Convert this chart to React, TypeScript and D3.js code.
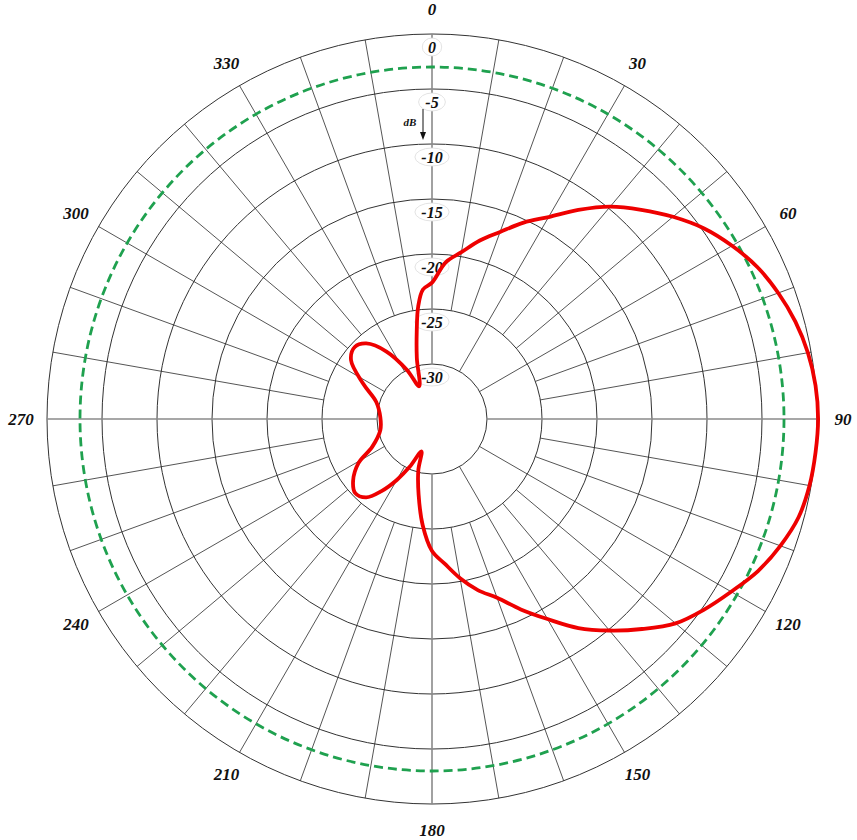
import React from 'react';
import * as d3 from 'd3';

const angleTicks = [0, 30, 60, 90, 120, 150, 180, 210, 240, 270, 300, 330];
const spokeAngles = d3.range(0, 360, 10);
const ringLevels = [0, -5, -10, -15, -20, -25, -30];
const ringLabels = ['0', '-5', '-10', '-15', '-20', '-25', '-30'];
const referenceDb = -3;

const patternAngles = [
  0, 5, 10, 15, 20, 25, 30, 35, 40, 45, 50, 55, 60, 65, 70, 75, 80, 85, 90, 95,
  100, 105, 110, 115, 120, 125, 130, 135, 140, 145, 150, 155, 160, 165, 170, 175,
  180, 185, 190, 195, 198, 205, 210, 215, 220, 226, 232, 239, 245, 258, 272, 287,
  297, 306, 313, 319, 326, 333, 338.5, 346, 350, 353, 356,
];
const patternDb = [
  -22.6, -20.7, -19.6, -18.2, -16.9, -15.3, -13.8, -11.8, -9.8, -8.1, -6.4, -4.8, -3.5, -2.35, -1.5, -0.8,
  -0.3, 0, 0.1, 0, -0.15, -0.5, -1.3, -2.3, -3.6, -4.8, -6.1, -8.0, -9.9, -11.8, -14.0, -15.9,
  -17.7, -18.9, -20.3, -21.8, -23.0, -25.3, -28.0, -30.2, -31.9, -30.2, -28.6, -27.0, -25.7, -25.3,
  -25.9, -27.2, -29.0, -30.2, -30.3, -29.7, -28.0, -25.9, -25.4, -25.9, -27.6, -30.0, -31.8, -29.3,
  -27.0, -24.7, -23.2,
];

export default function App() {
  const W = 857;
  const H = 840;
  const cx = 432;
  const cy = 419;
  const rScale = d3.scaleLinear().domain([-35, 0]).range([0, 385]);
  const rOuter = rScale(0);
  const rInner = rScale(-30);
  const rMid = rScale(-25);
  const rad = (a: number) => (a * Math.PI) / 180;

  const pts: [number, number][] = patternAngles.map((a, i) => [rad(a), rScale(patternDb[i])]);
  const line = d3
    .lineRadial<[number, number]>()
    .angle((d) => d[0])
    .radius((d) => d[1])
    .curve(d3.curveCatmullRomClosed.alpha(0.5));

  const labelR = 411;
  const serif = '"Liberation Serif", "Times New Roman", serif';

  return (
    <svg width={W} height={H} style={{ position: 'absolute', left: 0, top: 0, background: '#fff' }}>
      <g transform={`translate(${cx},${cy})`}>
        {ringLevels.map((lv) => (
          <circle key={lv} r={rScale(lv)} fill="none" stroke="#333" strokeWidth={1} />
        ))}
        {spokeAngles.map((a) => {
          const r0 = a % 30 === 0 ? rInner : rMid;
          const axis = a % 90 === 0;
          const s = Math.sin(rad(a));
          const c = -Math.cos(rad(a));
          return (
            <line
              key={a}
              x1={r0 * s}
              y1={r0 * c}
              x2={rOuter * s}
              y2={rOuter * c}
              stroke={axis ? '#8a8a8a' : '#2a2a2a'}
              strokeWidth={axis ? 1.6 : 0.8}
            />
          );
        })}
        <circle
          r={rScale(referenceDb)}
          fill="none"
          stroke="#1fa14f"
          strokeWidth={2.8}
          strokeDasharray="9 5"
        />
        {ringLevels.map((lv, i) => {
          const y = -rScale(lv) + 13;
          const txt = ringLabels[i];
          const rx = txt.length * 3.7 + 6;
          return (
            <g key={'l' + lv}>
              <ellipse cx={0} cy={y} rx={rx} ry={9} fill="#fff" stroke="#dcdcdc" strokeWidth={0.8} />
              <text
                x={0}
                y={y}
                textAnchor="middle"
                dominantBaseline="central"
                fontFamily={serif}
                fontStyle="italic"
                fontWeight="bold"
                fontSize={16}
                fill="#111"
              >
                {txt}
              </text>
            </g>
          );
        })}
        <path d={line(pts) || ''} fill="none" stroke="#ee0000" strokeWidth={3.8} strokeLinejoin="round" />
        <text
          x={-22}
          y={-297}
          textAnchor="middle"
          dominantBaseline="central"
          fontFamily={serif}
          fontStyle="italic"
          fontWeight="bold"
          fontSize={11}
          fill="#111"
        >
          dB
        </text>
        <line x1={-9} y1={-310} x2={-9} y2={-285} stroke="#111" strokeWidth={1} />
        <path d="M -12 -287 L -6 -287 L -9 -279 Z" fill="#111" />
        {angleTicks.map((a) => (
          <text
            key={'a' + a}
            x={labelR * Math.sin(rad(a))}
            y={-labelR * Math.cos(rad(a)) + (a === 0 ? 1 : 0)}
            textAnchor="middle"
            dominantBaseline="central"
            fontFamily={serif}
            fontStyle="italic"
            fontWeight="bold"
            fontSize={17}
            fill="#111"
          >
            {a}
          </text>
        ))}
      </g>
    </svg>
  );
}
